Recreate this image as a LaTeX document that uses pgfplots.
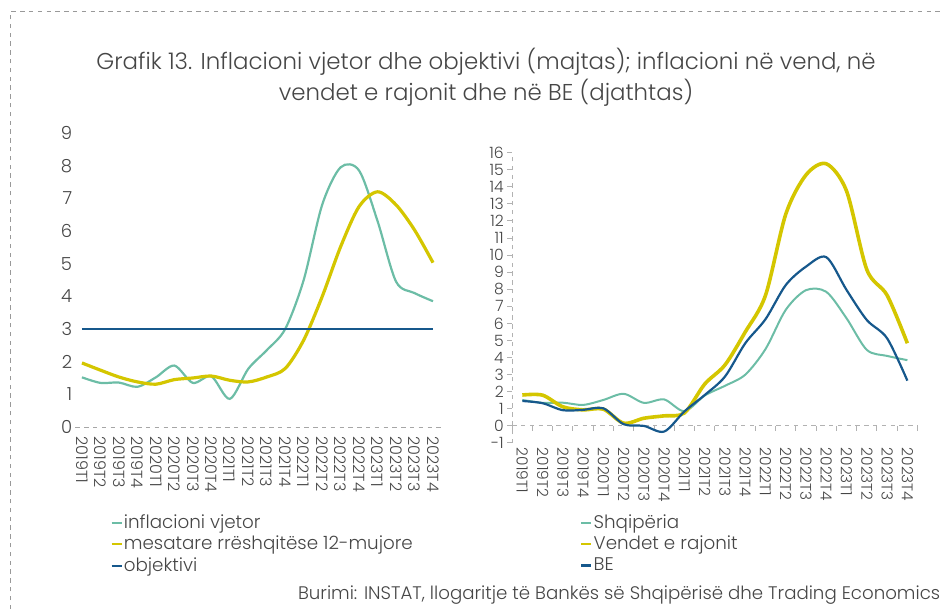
\documentclass[border=0pt]{standalone}
\usepackage{pgfplots}
\pgfplotsset{compat=1.18}
\usepackage{fontspec}
\IfFontExistsTF{Poppins Light}{\setmainfont{Poppins Light}}{\setmainfont{Poppins}}
\definecolor{cteal}{RGB}{108,189,166}
\definecolor{cyel}{RGB}{212,198,0}
\definecolor{cblue}{RGB}{22,88,140}
\definecolor{ctxt}{RGB}{70,70,70}
\pgfplotstableread{
x infl mes obj
0 1.52 1.96 3
1 1.35 1.74 3
2 1.36 1.53 3
3 1.23 1.38 3
4 1.52 1.31 3
5 1.88 1.45 3
6 1.35 1.50 3
7 1.55 1.56 3
8 0.86 1.43 3
9 1.78 1.38 3
10 2.35 1.53 3
11 3.00 1.79 3
12 4.50 2.66 3
13 6.80 3.99 3
14 7.95 5.52 3
15 7.85 6.75 3
16 6.30 7.20 3
17 4.45 6.80 3
18 4.10 6.03 3
19 3.85 5.03 3
}\lefttable
\pgfplotstableread{
x alb reg eu
0 1.52 1.81 1.46
1 1.35 1.80 1.33
2 1.36 1.12 0.92
3 1.23 0.94 0.94
4 1.52 0.98 1.03
5 1.88 0.16 0.10
6 1.35 0.45 0.00
7 1.55 0.59 -0.33
8 0.86 0.76 0.85
9 1.78 2.45 1.81
10 2.35 3.57 2.89
11 3.00 5.50 4.84
12 4.50 7.65 6.25
13 6.80 12.40 8.25
14 7.95 14.70 9.33
15 7.85 15.35 9.88
16 6.30 13.75 7.96
17 4.45 9.15 6.20
18 4.10 7.65 5.13
19 3.85 4.84 2.65
}\righttable
\begin{document}
\begin{tikzpicture}
\path[use as bounding box] (0,0) rectangle (471.5pt,306.5pt);
\draw[gray!80, dash pattern=on 2.2pt off 2.2pt, line width=0.5pt] (5pt,-20pt) -- (5pt,300.5pt) -- (490pt,300.5pt);
\node[align=center, text=ctxt, font=\fontsize{11.45}{15.5}\selectfont] at (243pt,268pt)
 {Grafik 13. Inflacioni vjetor dhe objektivi (majtas); inflacioni në vend, në\\vendet e rajonit dhe në BE (djathtas)};
\begin{axis}[
  at={(37.75pt,93pt)}, anchor=south west,
  scale only axis, width=183.75pt, height=147pt,
  xmin=-0.35, xmax=19.54, ymin=0, ymax=9,
  axis x line*=bottom, axis y line*=left,
  x axis line style={gray!70, dash pattern=on 2.2pt off 2.2pt, -},
  y axis line style={draw=none},
  xtick={0,...,19},
  xticklabels={2019T1,2019T2,2019T3,2019T4,2020T1,2020T2,2020T3,2020T4,2021T1,2021T2,2021T3,2021T4,2022T1,2022T2,2022T3,2022T4,2023T1,2023T2,2023T3,2023T4},
  ytick={0,...,9},
  tick style={draw=none},
  xticklabel style={rotate=-90, anchor=west, font=\fontsize{8}{9}\selectfont, text=ctxt, inner sep=0pt, xshift=4.5pt},
  yticklabel style={font=\fontsize{9}{11}\selectfont, text=ctxt, inner sep=1.5pt},
  /pgf/number format/assume math mode=true,
  legend style={at={(0.094,-0.282)}, anchor=north west, draw=none, fill=none,
    font=\fontsize{9.15}{10}\selectfont, text=ctxt, inner sep=0pt, row sep=-1.6pt,
    cells={anchor=west}, nodes={inner xsep=0.6pt}},
  legend image code/.code={\draw[#1, line width=1.1pt] (0pt,0pt) -- (5pt,0pt);},
  clip=false,
]
\addplot[cteal, line width=1.1pt, smooth, tension=0.5] table[x=x,y=infl] {\lefttable};
\addlegendentry{inflacioni vjetor}
\addplot[cyel, line width=1.6pt, smooth, tension=0.5] table[x=x,y=mes] {\lefttable};
\addlegendentry{mesatare rrëshqitëse 12-mujore}
\addplot[cblue, line width=1.1pt] table[x=x,y=obj] {\lefttable};
\addlegendentry{objektivi}
\end{axis}
\begin{axis}[
  at={(256.1pt,85pt)}, anchor=south west,
  scale only axis, width=202.65pt, height=145.15pt,
  xmin=-0.5, xmax=19.5, ymin=-1, ymax=16,
  axis x line*=bottom, axis y line*=left,
  x axis line style={draw=none},
  y axis line style={gray!60, dash pattern=on 2.2pt off 2.2pt, -},
  xtick={0,...,19},
  xticklabels={2019T1,2019T2,2019T3,2019T4,2020T1,2020T2,2020T3,2020T4,2021T1,2021T2,2021T3,2021T4,2022T1,2022T2,2022T3,2022T4,2023T1,2023T2,2023T3,2023T4},
  ytick={-1,0,...,16},
  x tick style={draw=none},
  y tick style={gray!60, line width=0.5pt},
  tick align=outside, major tick length=2.5pt,
  xticklabel style={rotate=-90, anchor=west, font=\fontsize{7.7}{9}\selectfont, text=ctxt, inner sep=0pt, xshift=-0.3pt},
  yticklabel style={font=\fontsize{7.8}{9}\selectfont, text=ctxt, inner sep=1.5pt},
  /pgf/number format/assume math mode=true,
  legend style={at={(0.167,-0.231)}, anchor=north west, draw=none, fill=none,
    font=\fontsize{9.15}{10}\selectfont, text=ctxt, inner sep=0pt, row sep=-1.6pt,
    cells={anchor=west}, nodes={inner xsep=0.6pt}},
  legend image code/.code={\draw[#1, line width=1.1pt] (0pt,0pt) -- (5pt,0pt);},
  clip=false,
]
\draw[gray!60, dash pattern=on 2.2pt off 2.2pt, line width=0.5pt] (axis cs:-0.5,0) -- (axis cs:19.5,0);
\pgfplotsinvokeforeach{-0.5,0.5,...,19.5}{\draw[gray!60, line width=0.5pt] (axis cs:#1,0) -- ++(0pt,-2.5pt);}
\addplot[cteal, line width=1.0pt, smooth, tension=0.5] table[x=x,y=alb] {\righttable};
\addlegendentry{Shqipëria}
\addplot[cyel, line width=1.8pt, smooth, tension=0.5] table[x=x,y=reg] {\righttable};
\addlegendentry{Vendet e rajonit}
\addplot[cblue, line width=1.1pt, smooth, tension=0.5] table[x=x,y=eu] {\righttable};
\addlegendentry{BE}
\end{axis}
\node[anchor=east, text=ctxt, inner sep=0pt, font=\fontsize{9.1}{10}\selectfont] at (470.3pt,9pt)
 {Burimi: INSTAT, llogaritje të Bankës së Shqipërisë dhe Trading Economics};
\end{tikzpicture}
\end{document}
